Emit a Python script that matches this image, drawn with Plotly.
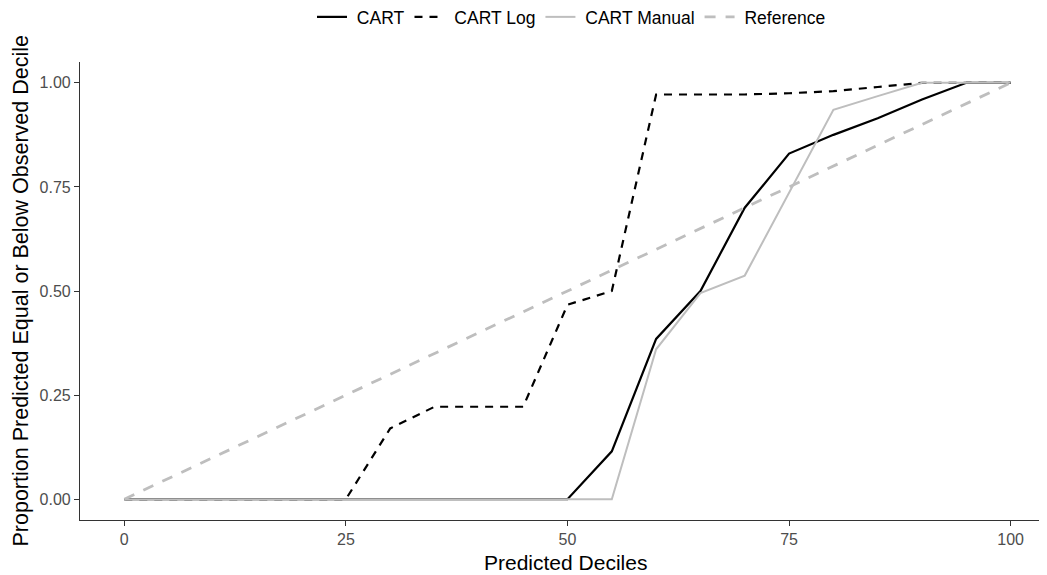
import plotly.graph_objects as go

deciles = [0, 5, 10, 15, 20, 25, 30, 35, 40, 45, 50, 55, 60, 65, 70, 75, 80, 85, 90, 95, 100]
cart = [0, 0, 0, 0, 0, 0, 0, 0, 0, 0, 0, 0.115, 0.385, 0.50, 0.70, 0.83, 0.875, 0.915, 0.96, 1.0, 1.0]
cart_log = [0, 0, 0, 0, 0, 0, 0.17, 0.222, 0.222, 0.222, 0.467, 0.50, 0.972, 0.972, 0.972, 0.975, 0.98, 0.99, 1.0, 1.0, 1.0]
cart_manual = [0, 0, 0, 0, 0, 0, 0, 0, 0, 0, 0, 0, 0.36, 0.495, 0.537, 0.737, 0.935, 0.968, 1.0, 1.0, 1.0]
ref_x = [0, 100]
ref_y = [0, 1]

x_ticks = [0, 25, 50, 75, 100]
y_ticks = [0, 0.25, 0.5, 0.75, 1.0]
y_ticklabels = ["0.00", "0.25", "0.50", "0.75", "1.00"]

BLACK = "#000000"
GREY = "#BEBEBE"
FONT = "Liberation Sans, Arial, sans-serif"

# the page body adds an 8px offset; figure is sized to fill the remaining window
W, H = 1039, 567
ML, MT, MR, MB = 72, 54, 0, 55
PW, PH = W - ML - MR, H - MT - MB

fig = go.Figure()
fig.add_trace(go.Scatter(x=deciles, y=cart, mode="lines", name=" CART",
                         line=dict(color=BLACK, width=2.2)))
fig.add_trace(go.Scatter(x=deciles, y=cart_log, mode="lines", name=" CART Log",
                         line=dict(color=BLACK, width=2.2, dash="8px,7px")))
fig.add_trace(go.Scatter(x=deciles, y=cart_manual, mode="lines", name=" CART Manual",
                         line=dict(color=GREY, width=2.0)))
fig.add_trace(go.Scatter(x=ref_x, y=ref_y, mode="lines", name=" Reference",
                         line=dict(color=GREY, width=2.8, dash="11px,10px")))

fig.update_layout(
    width=W, height=H,
    margin=dict(l=ML, r=MR, t=MT, b=MB, autoexpand=False),
    paper_bgcolor="white", plot_bgcolor="white",
    font=dict(family=FONT, color="#4D4D4D", size=16),
    showlegend=True,
    legend=dict(orientation="h", xref="container", yref="container",
                x=563.5 / W, xanchor="center", y=1 - 9 / H, yanchor="middle",
                font=dict(family=FONT, size=17.5, color="#000000"),
                itemwidth=30, tracegroupgap=0, bgcolor="rgba(0,0,0,0)"),
    xaxis=dict(range=[-5, 104.1], tickvals=x_ticks, ticktext=[str(v) for v in x_ticks],
               showgrid=False, zeroline=False, showline=True, linecolor="#333333", linewidth=1.2,
               ticks="outside", ticklen=5, tickcolor="#333333", tickwidth=1.2, automargin=False,
               tickfont=dict(family=FONT, size=16, color="#4D4D4D")),
    yaxis=dict(range=[-0.05, 1.05], tickvals=y_ticks, ticktext=y_ticklabels,
               showgrid=False, zeroline=False, showline=True, linecolor="#333333", linewidth=1.2,
               ticks="outside", ticklen=5, tickcolor="#333333", tickwidth=1.2, automargin=False,
               tickfont=dict(family=FONT, size=16, color="#4D4D4D")),
    annotations=[
        dict(text="Predicted Deciles", xref="paper", yref="paper", x=(565 - 8 - ML) / PW, y=-42 / PH,
             xanchor="center", yanchor="middle", showarrow=False,
             font=dict(family=FONT, size=21, color="#000000")),
        dict(text="Proportion Predicted Equal or Below Observed Decile", xref="paper", yref="paper",
             x=-(ML - 12.5) / PW, y=0.5, xanchor="center", yanchor="middle", textangle=-90,
             showarrow=False, font=dict(family=FONT, size=21.5, color="#000000")),
    ],
)

fig.write_html("out.html")
